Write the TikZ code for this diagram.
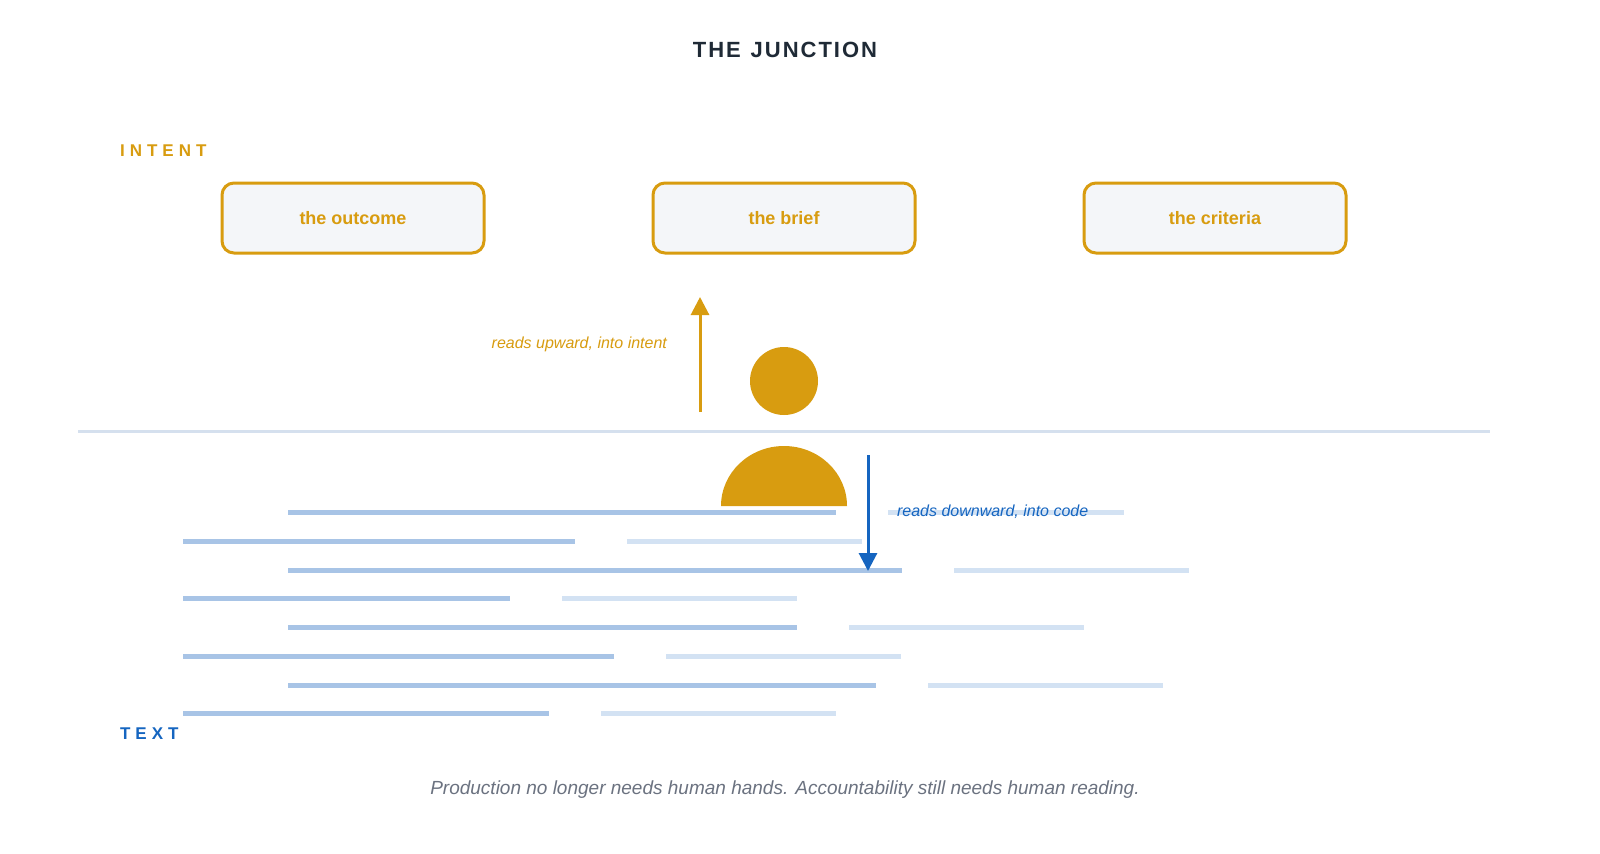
\documentclass[tikz,border=0pt]{standalone}
\usepackage{fontspec}
\setmainfont{Liberation Sans}
\usetikzlibrary{arrows.meta}
\definecolor{gold}{HTML}{D89C10}
\definecolor{ink}{HTML}{1F2A36}
\definecolor{blu}{HTML}{1565C0}
\definecolor{dk}{HTML}{A8C4E6}
\definecolor{lt}{HTML}{D3E2F3}
\definecolor{rule}{HTML}{D5E0EE}
\definecolor{cap}{HTML}{6B7280}
\definecolor{boxfill}{HTML}{F4F6F9}
\begin{document}
\begin{tikzpicture}[x=0.5pt,y=-0.5pt,
  box/.style={draw=gold,line width=1.5pt,fill=boxfill,rounded corners=6pt,minimum width=131pt,minimum height=35pt,font=\fontsize{9}{11}\selectfont\bfseries,text=gold},
  dline/.style={dk,line width=2.5pt},
  lline/.style={lt,line width=2.5pt},
  lbl/.style={font=\fontsize{8}{10}\selectfont\itshape}]
\useasboundingbox[fill=white] (0,0) rectangle (1600,853);
\node[font=\fontsize{11}{13}\selectfont\bfseries,text=ink] (title) at (785,50) {T\kern1pt H\kern1pt E\;\,J\kern1pt U\kern1pt N\kern1pt C\kern1pt T\kern1pt I\kern1pt O\kern1pt N};
\node[anchor=west,font=\fontsize{8.5}{10}\selectfont\bfseries,text=gold] (intent) at (113,151) {I\kern2.5pt N\kern2.5pt T\kern2.5pt E\kern2.5pt N\kern2.5pt T};
\node[box] (outcome) at (353,218) {the outcome};
\node[box] (brief) at (784,218) {the brief};
\node[box] (criteria) at (1215,218) {the criteria};
\coordinate (upS) at (700,412); \coordinate (upE) at (700,297);
\draw[gold,line width=1.5pt,-{Triangle[length=9pt,width=9pt]}] (upS) -- (upE);
\node[lbl,text=gold,anchor=east] (uplbl) at (674,344) {reads upward, into intent};
\coordinate (r1) at (78,431); \coordinate (r2) at (1490,431);
\draw[rule,line width=1.5pt] (r1) -- (r2);
\foreach \y/\a/\b/\c/\d in {512/288/836/888/1124,541/183/575/627/862,570/288/902/954/1189,598/183/510/562/797,627/288/797/849/1084,656/183/614/666/901,685/288/876/928/1163,713/183/549/601/836}{
  \draw[dline] (\a,\y) -- (\b,\y);
  \draw[lline] (\c,\y) -- (\d,\y);
}
\fill[gold] (784,381) circle (34);
\fill[gold] (721,506) arc[start angle=180,end angle=0,x radius=63,y radius=-60] -- cycle;
\coordinate (dnS) at (868,455); \coordinate (dnE) at (868,571);
\draw[blu,line width=1.5pt,-{Triangle[length=9pt,width=9pt]}] (dnS) -- (dnE);
\node[lbl,text=blu,anchor=west] (dnlbl) at (890,512) {reads downward, into code};
\node[anchor=west,font=\fontsize{8.5}{10}\selectfont\bfseries,text=blu] (textlbl) at (113,734) {T\kern2.5pt E\kern2.5pt X\kern2.5pt T};
\node[font=\fontsize{9.5}{11}\selectfont\itshape,text=cap] (caption) at (785,790) {Production no longer needs human hands. Accountability still needs human reading.};
\end{tikzpicture}
\end{document}
